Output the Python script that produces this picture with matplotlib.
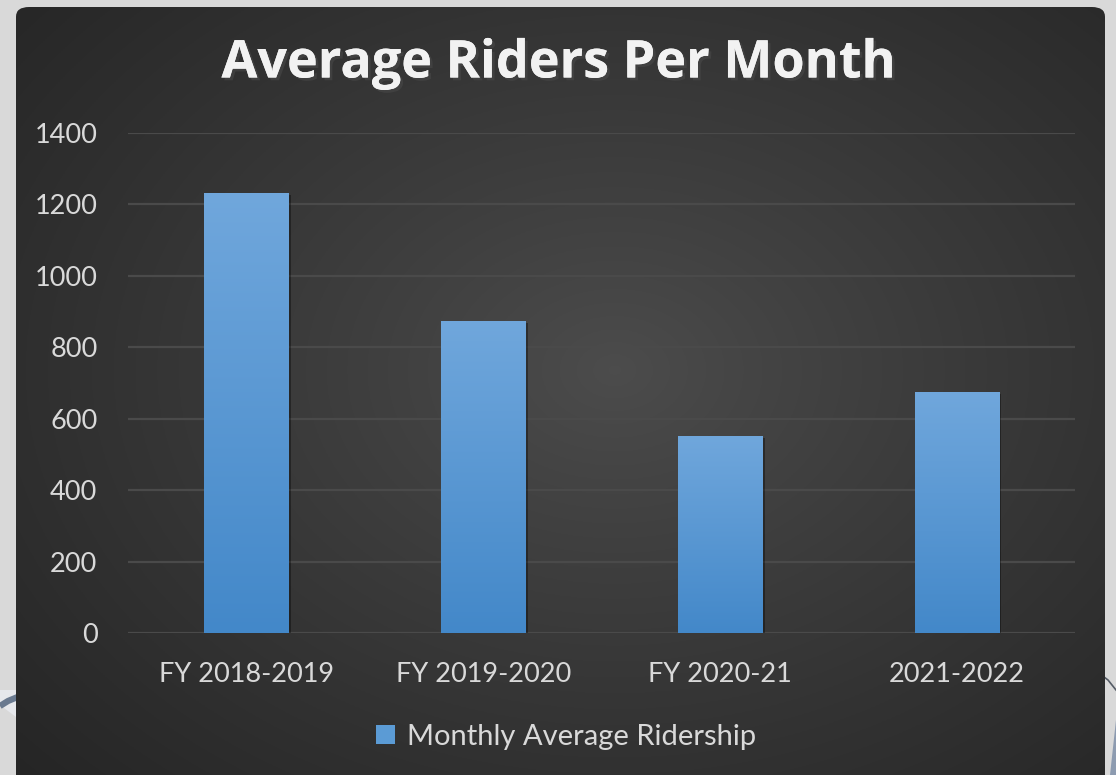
import numpy as np
import matplotlib
matplotlib.use("Agg")
import matplotlib.pyplot as plt
from matplotlib.patches import FancyBboxPatch, Polygon
import matplotlib.patheffects as pe

categories = ["FY 2018-2019", "FY 2019-2020", "FY 2020-21", "2021-2022"]
ridership = [1232, 874, 552, 675]
series_name = "Monthly Average Ridership"
title = "Average Riders Per Month"
yticks = [0, 200, 400, 600, 800, 1000, 1200, 1400]

W, H = 1116, 775
fig = plt.figure(figsize=(W / 100, H / 100), dpi=100)
fig.patch.set_facecolor("#d9d9d9")
plt.rcParams["font.family"] = ["Lato", "DejaVu Sans"]

# seal fragments at the edges (behind the panel)
deco = fig.add_axes([0, 0, 1, 1], zorder=-1)
deco.set_axis_off()
deco.set_xlim(0, W)
deco.set_ylim(H, 0)
deco.add_patch(Polygon([[0, 705], [40, 735], [40, 690], [0, 690]], closed=True,
                       facecolor="#e6e8ec", edgecolor="none"))
deco.plot([0, 8, 20], [706, 701, 696], color="#6a7a90", lw=4.5, solid_capstyle="butt")
deco.plot([1100, 1108, 1116], [674, 680, 690], color="#555c66", lw=1.2)
deco.add_patch(Polygon([[1110, 775], [1116, 720], [1116, 775]], closed=True,
                       facecolor="#8d9bb0", edgecolor="none"))

# dark panel with radial gradient
px0, px1, py0, py1 = 16 / W, 1105 / W, -0.05, 1 - 7 / H
bg = fig.add_axes([px0, py0, px1 - px0, py1 - py0], zorder=0)
bg.set_axis_off()
yy, xx = np.mgrid[0:1:400j, 0:1:600j]
r = np.sqrt(((xx - 0.55) / 0.75) ** 2 + ((yy - 0.45) / 0.75) ** 2)
r = np.clip(r, 0, 1)
lo, hi = 0.145, 0.30
val = hi - (hi - lo) * r ** 0.9
img = np.dstack([val, val, val])
panel = FancyBboxPatch((0, 0), 1, 1, boxstyle="round,pad=0,rounding_size=0.012",
                       transform=bg.transAxes, facecolor="none", edgecolor="none")
bg.add_patch(panel)
im = bg.imshow(img, extent=[0, 1, 0, 1], aspect="auto", origin="upper")
im.set_clip_path(panel)
bg.set_xlim(0, 1)
bg.set_ylim(0, 1)

# main axes
left, right = 128 / W, 1075 / W
bottom, top = 1 - 633 / H, 1 - 133 / H
ax = fig.add_axes([left, bottom, right - left, top - bottom], zorder=1)
ax.set_facecolor("none")
x = np.arange(len(categories))
bars = ax.bar(x, ridership, width=0.355, color="#5b9bd5", zorder=3,
              label=series_name)

grad = np.linspace(0, 1, 256).reshape(-1, 1)
top_c = np.array([0x70, 0xa7, 0xdc]) / 255
bot_c = np.array([0x43, 0x88, 0xc9]) / 255
gimg = top_c[None, None, :] * (1 - grad[:, :, None]) + bot_c[None, None, :] * grad[:, :, None]
for b in bars:
    bx, by, bw, bh = b.get_x(), b.get_y(), b.get_width(), b.get_height()
    ax.bar(bx + bw / 2 + 0.012, bh, width=bw, bottom=by - 6, color="black",
           alpha=0.35, zorder=2)
    gi = ax.imshow(gimg, extent=[bx, bx + bw, by, by + bh], aspect="auto",
                   origin="upper", zorder=4)
    gi.set_clip_path(b)
ax.set_aspect("auto")
ax.set_xlim(-0.5, len(categories) - 0.5)
ax.set_ylim(0, 1400)

ax.set_yticks(yticks)
ax.set_yticklabels([str(v) for v in yticks])
ax.set_xticks(x)
ax.set_xticklabels(categories)
ax.tick_params(axis="both", length=0, colors="#d9d9d9", labelsize=19.5)
ax.tick_params(axis="y", pad=22)
ax.tick_params(axis="x", pad=21)
ax.yaxis.grid(True, color="#4a4a4a", lw=1.6, zorder=0)
for s in ax.spines.values():
    s.set_visible(False)

fig.text(559 / W, 1 - 64 / H, title, ha="center", va="center", color="#f2f2f2",
         fontsize=37.5, fontweight="bold", family=["Open Sans", "DejaVu Sans"],
         path_effects=[pe.withSimplePatchShadow(offset=(2, -2), alpha=0.6),
                       pe.Normal()])

leg = fig.legend(handles=[bars], labels=[series_name], loc="center",
                 bbox_to_anchor=(566 / W, 1 - 737 / H), frameon=False,
                 fontsize=21, labelcolor="#d9d9d9", handlelength=0.65,
                 handleheight=0.65, handletextpad=0.4)

fig.savefig("out.png", dpi=100, facecolor=fig.get_facecolor())
